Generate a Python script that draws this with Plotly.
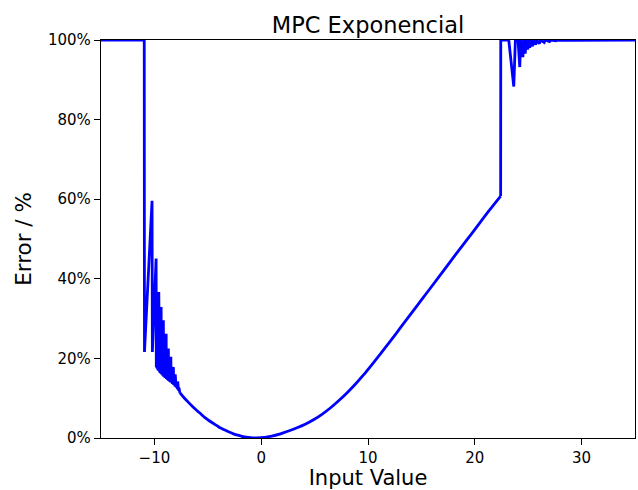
import plotly.graph_objects as go

# Input values (x) and error in percent (y)
input_value = [
    -15.0, -10.95, -10.93, -10.22, -10.19,
    -9.84, -9.82, -9.78, -9.76, -9.72, -9.70, -9.66, -9.64,
    -9.59, -9.57, -9.53, -9.51, -9.48, -9.46, -9.42, -9.40,
    -9.37, -9.35, -9.32, -9.30, -9.26, -9.24, -9.21, -9.19,
    -9.16, -9.14, -9.10, -9.08, -9.03, -9.01, -8.96, -8.94,
    -8.90, -8.88, -8.85, -8.83, -8.79, -8.77, -8.74, -8.72,
    -8.69, -8.67, -8.63, -8.61, -8.57, -8.55, -8.52, -8.50,
    -8.46, -8.44, -8.40, -8.38, -8.34, -8.32, -8.28, -8.26,
    -8.22, -8.20, -8.16, -8.14, -8.10, -8.08, -8.05, -8.03,
    -7.99, -7.97, -7.93, -7.91, -7.87, -7.85, -7.82, -7.80,
    -7.76, -7.74, -7.70, -7.68, -7.64, -7.62,
    -7.28, -6.9, -6.5, -6.1, -5.72, -5.3, -4.9, -4.5, -4.15, -3.8, -3.4, -3.0,
    -2.6, -2.2, -1.8, -1.4, -1.0, -0.4,
    0.3, 1.0, 1.8, 2.56, 3.3, 4.12, 4.9, 5.69, 6.5, 7.25, 8.0, 8.81, 9.6,
    10.37, 11.15, 11.93, 12.7, 13.5, 15.06, 16.62, 18.18, 19.75, 21.3, 22.42,
    22.43, 23.18, 23.65, 23.8, 24.05, 24.21, 24.3, 24.5, 24.58, 24.72, 24.81,
    24.95, 25.05, 25.15, 25.22, 25.4, 25.5, 25.7, 25.8, 26.05, 26.15,
    26.5, 26.6, 27.0, 27.1, 27.6, 27.7, 28.65, 35.0,
]
error_pct = [
    100.0, 100.0, 21.6, 59.6, 21.6,
    45.1, 17.8, 30.0, 17.5, 26.0, 17.2, 32.0, 16.9,
    36.7, 16.6, 27.0, 16.5, 24.0, 16.3, 29.0, 16.1,
    32.9, 16.0, 25.0, 15.9, 22.0, 15.7, 27.0, 15.5,
    29.6, 15.4, 23.0, 15.3, 21.0, 15.1, 24.5, 14.9,
    26.2, 14.8, 20.5, 14.7, 19.0, 14.6, 21.5, 14.4,
    22.5, 14.3, 19.0, 14.2, 17.5, 14.1, 19.5, 14.0,
    20.4, 13.9, 17.5, 13.8, 16.5, 13.6, 17.5, 13.5,
    17.8, 13.3, 15.5, 13.2, 15.0, 13.0, 16.0, 12.9,
    15.5, 12.7, 14.0, 12.5, 13.6, 12.3, 14.2, 12.1,
    13.0, 11.9, 12.6, 11.7, 12.2, 11.4,
    10.3, 9.2, 8.1, 7.1, 6.2, 5.2, 4.4, 3.7, 3.1, 2.5, 2.0, 1.5,
    1.05, 0.7, 0.43, 0.22, 0.08, 0.03,
    0.15, 0.5, 1.05, 1.76, 2.5, 3.44, 4.57, 5.95, 7.6, 9.35, 11.25, 13.5, 15.9,
    18.45, 21.1, 23.8, 26.5, 29.35, 34.9, 40.4, 46.0, 51.5, 57.0, 60.8,
    100.0, 100.0, 88.3, 100.0, 100.0, 93.2, 100.0, 95.7, 100.0, 96.6, 100.0,
    97.6, 100.0, 98.0, 100.0, 98.4, 100.0, 98.8, 100.0, 99.1, 100.0,
    99.4, 100.0, 99.6, 100.0, 99.8, 100.0, 99.9, 100.0,
]

x_ticks = [-10, 0, 10, 20, 30]
y_ticks = [0, 20, 40, 60, 80, 100]
y_tick_labels = ["0%", "20%", "40%", "60%", "80%", "100%"]

# split the series where the curve is smooth so that part can be drawn as a spline
i_start = input_value.index(-7.62)
i_end = input_value.index(22.42)
segments = [
    (input_value[:i_start + 1], error_pct[:i_start + 1], "linear"),
    (input_value[i_start:i_end + 1], error_pct[i_start:i_end + 1], "spline"),
    (input_value[i_end:], error_pct[i_end:], "linear"),
]

fig = go.Figure()
for xs, ys, shape in segments:
    fig.add_trace(go.Scatter(
        x=xs, y=ys, mode="lines",
        line=dict(color="#0000ff", width=2.8, shape=shape),
        showlegend=False, hoverinfo="skip",
    ))

font_family = "DejaVu Sans"
axis_common = dict(
    showline=True, linecolor="black", linewidth=1.4, mirror=True,
    ticks="outside", ticklen=6, tickwidth=1.4, tickcolor="black",
    showgrid=False, zeroline=False, automargin=False,
    tickfont=dict(family=font_family, size=15, color="black"),
)

fig.update_layout(
    width=638, height=490,
    margin=dict(l=101, r=3, t=40, b=52),
    paper_bgcolor="white", plot_bgcolor="white",
    font=dict(family=font_family, color="black"),
    title=dict(
        text="MPC Exponencial", x=0.5, xref="paper", xanchor="center",
        y=1, yref="paper", yanchor="bottom", pad=dict(b=7),
        font=dict(family=font_family, size=22.5, color="black"),
    ),
    xaxis=dict(
        range=[-15, 35], tickvals=x_ticks,
        title=dict(text="Input Value", standoff=8,
                   font=dict(family=font_family, size=21, color="black")),
        **axis_common,
    ),
    yaxis=dict(
        range=[0, 100], tickvals=y_ticks, ticktext=y_tick_labels,
        title=dict(text="Error / %", standoff=10,
                   font=dict(family=font_family, size=21.5, color="black")),
        **axis_common,
    ),
)

# remove the default page margin so the 638x490 figure fills the window exactly
fig.write_html(
    "out.html",
    config={"displayModeBar": False},
    post_script="document.body.style.margin='0';",
)
